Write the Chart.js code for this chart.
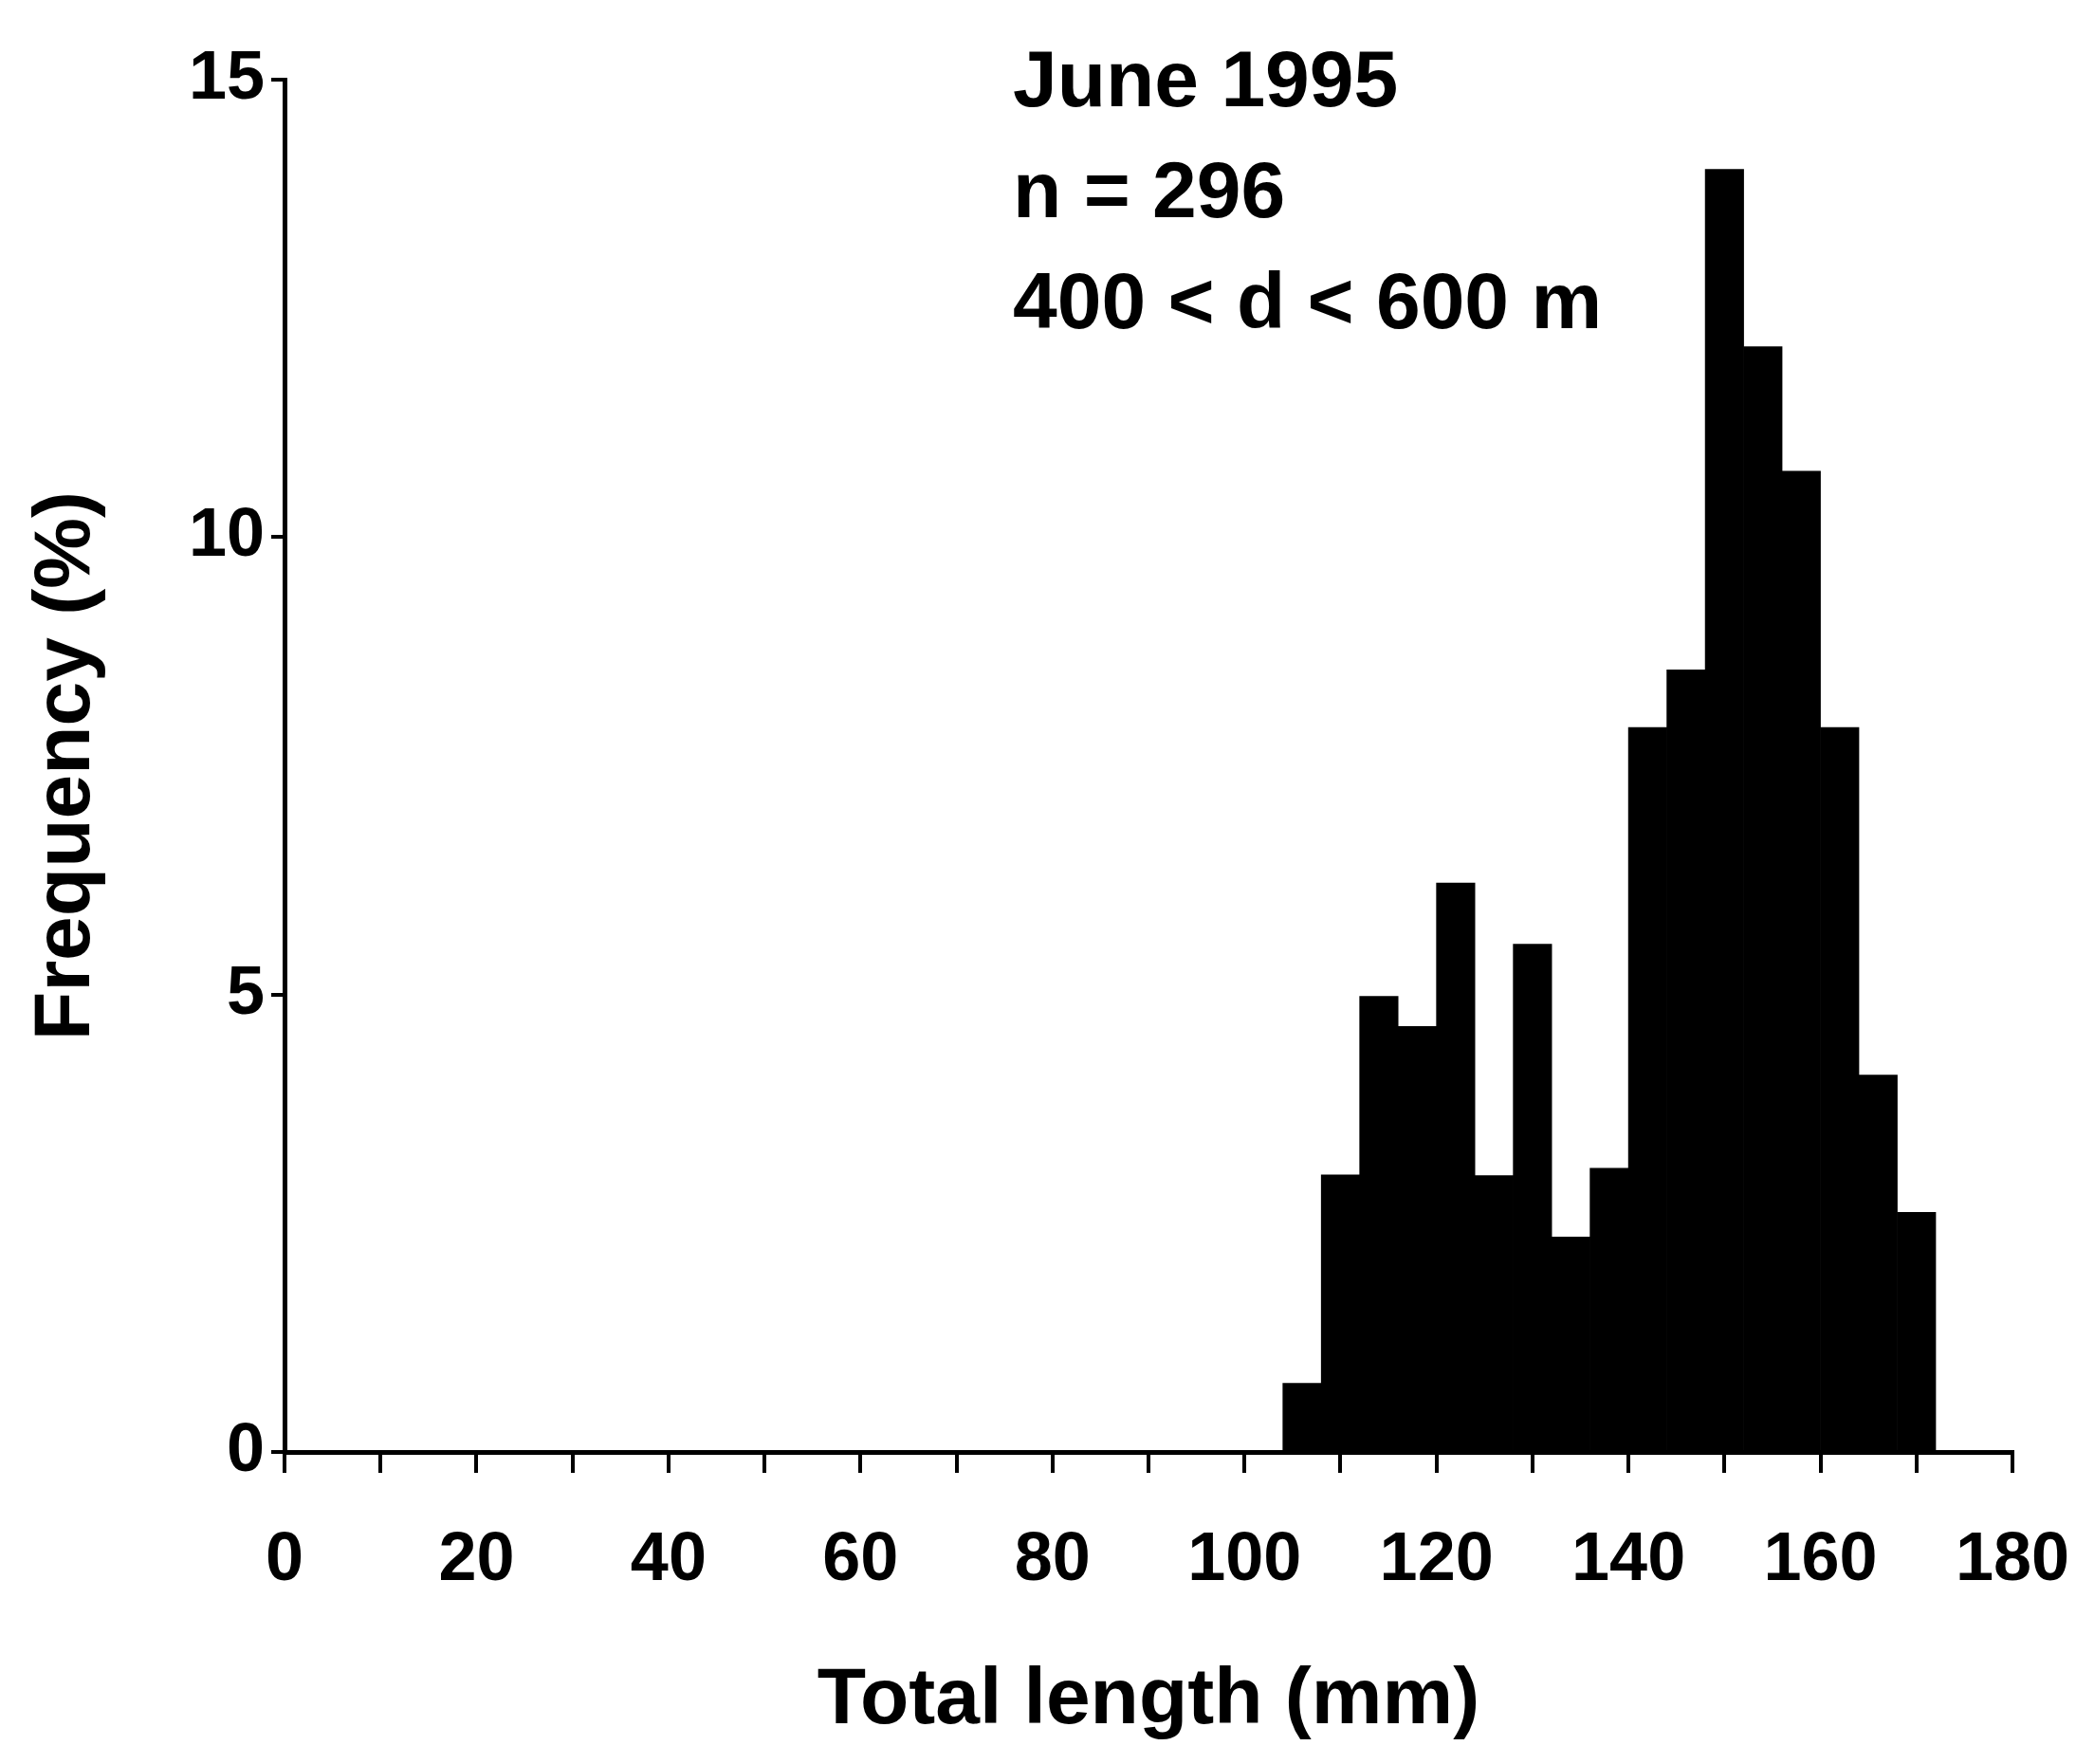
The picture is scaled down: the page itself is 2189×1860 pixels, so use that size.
<!DOCTYPE html>
<html>
<head>
<meta charset="utf-8">
<script src="https://cdn.jsdelivr.net/npm/chart.js@4.4.1/dist/chart.umd.min.js"></script>
<style>
  html, body { margin: 0; padding: 0; background: #fff; }
  #wrap { width: 2189px; height: 1860px; }
</style>
</head>
<body>
<div id="wrap"><canvas id="hist" width="2189" height="1860"></canvas></div>
<script>
// length classes (mm, 4 mm bins) and frequency (%)
const binCentres = [106, 110, 114, 118, 122, 126, 130, 134, 138, 142, 146, 150, 154, 158, 162, 166, 170];
const frequency = [0.75, 3.03, 4.98, 4.65, 6.22, 3.02, 5.55, 2.35, 3.10, 7.92, 8.55, 14.02, 12.08, 10.72, 7.92, 4.12, 2.62];
const xTicks = [0, 20, 40, 60, 80, 100, 120, 140, 160, 180];
const yTicks = [0, 5, 10, 15];
const noteLines = ['June 1995', 'n = 296', '400 < d < 600 m'];

const FONT = '"Liberation Sans", Arial, sans-serif';

const notePlugin = {
  id: 'note',
  afterDraw(chart) {
    const ctx = chart.ctx;
    ctx.save();
    ctx.fillStyle = '#000';
    ctx.font = 'bold 84px ' + FONT;
    ctx.textBaseline = 'middle';
    ctx.textAlign = 'left';
    noteLines.forEach((t, i) => {
      ctx.fillText(t, 1068, 89 + i * 117);
    });
    ctx.restore();
  }
};

const ctx = document.getElementById('hist');

new Chart(ctx, {
  type: 'bar',
  data: {
    datasets: [{
      data: binCentres.map((x, i) => ({x: x, y: frequency[i]})),
      backgroundColor: '#000',
      borderWidth: 0,
      barPercentage: 1,
      categoryPercentage: 1
    }]
  },
  options: {
    responsive: false,
    animation: false,
    devicePixelRatio: 1,
    layout: {padding: {top: 84, right: 67, left: 0, bottom: 0}},
    plugins: {legend: {display: false}, tooltip: {enabled: false}},
    scales: {
      x: {
        type: 'linear',
        min: 0,
        max: 180,
        offset: false,
        afterFit: function (scale) {
          scale.height = 329;
          scale.paddingLeft = 0;
          scale.paddingRight = 0;
        },
        afterBuildTicks: function (scale) {
          const t = [];
          for (let v = 0; v <= 180; v += 10) t.push({value: v});
          scale.ticks = t;
        },
        border: {display: true, color: '#000', width: 5},
        grid: {offset: false, drawOnChartArea: false, color: '#000', lineWidth: 4, tickLength: 22},
        ticks: {
          autoSkip: false,
          maxRotation: 0,
          padding: 50,
          color: '#000',
          font: {family: FONT, size: 72, weight: 'bold'},
          callback: function (value) {
            return xTicks.includes(value) ? String(value) : '';
          }
        },
        title: {
          display: true,
          text: 'Total length (mm)',
          color: '#000',
          font: {family: FONT, size: 84, weight: 'bold'},
          padding: {top: 0, bottom: 16}
        }
      },
      y: {
        min: 0,
        max: 15,
        afterFit: function (scale) { scale.width = 300; },
        afterBuildTicks: function (scale) {
          scale.ticks = yTicks.map(v => ({value: v}));
        },
        border: {display: true, color: '#000', width: 5},
        grid: {drawOnChartArea: false, color: '#000', lineWidth: 4, tickLength: 14},
        ticks: {
          padding: 7,
          color: '#000',
          font: {family: FONT, size: 72, weight: 'bold'}
        },
        title: {
          display: true,
          text: 'Frequency (%)',
          color: '#000',
          font: {family: FONT, size: 84, weight: 'bold'},
          padding: {top: 20, bottom: 0}
        }
      }
    }
  },
  plugins: [notePlugin]
});
</script>
</body>
</html>
